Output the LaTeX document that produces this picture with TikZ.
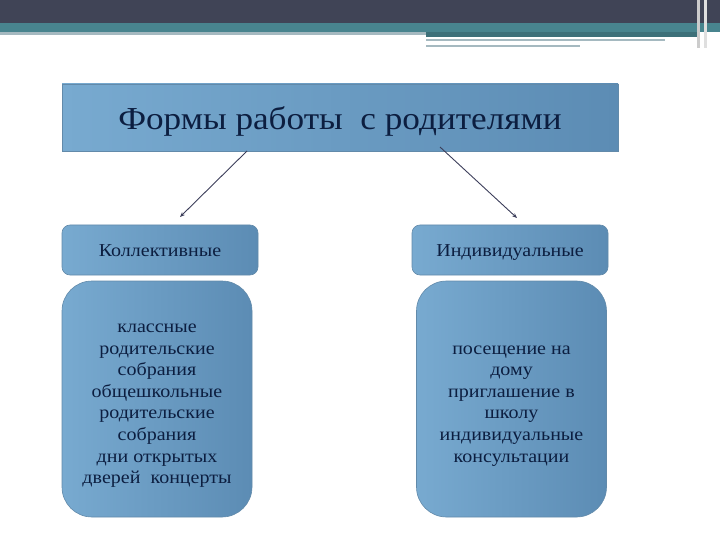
\documentclass[tikz,border=0pt]{standalone}
\usepackage{fontspec}
\setmainfont[FakeStretch=1.1]{Liberation Serif}
\usetikzlibrary{arrows.meta,positioning}
\definecolor{topdark}{RGB}{64,68,86}
\definecolor{topteal}{RGB}{72,132,142}
\definecolor{topline}{RGB}{165,185,192}
\definecolor{boxlight}{RGB}{120,170,208}
\definecolor{boxdark}{RGB}{92,140,180}
\definecolor{boxedge}{RGB}{98,138,170}
\definecolor{txtnavy}{RGB}{12,30,64}
\definecolor{arrgray}{RGB}{60,62,90}

\begin{document}
\begin{tikzpicture}[x=1pt,y=-1pt,
  blockbox/.style={draw=boxedge,line width=0.6pt,left color=boxlight,right color=boxdark,
    text=txtnavy,align=center,inner sep=0pt},
  kindbox/.style={blockbox,rounded corners=8pt,minimum width=196pt,minimum height=50pt,
    text height=12pt,text depth=0pt,font=\fontsize{18.2}{20}\selectfont},
  listbox/.style={blockbox,rounded corners=30pt,minimum width=190pt,minimum height=236pt,
    font=\fontsize{18.2}{21.6}\selectfont},
  arr/.style={-{Stealth[length=5pt,width=4pt]},line width=0.9pt,arrgray}
]
  \useasboundingbox (0,0) rectangle (720,540);
  % top band
  \fill[topdark] (0,0) rectangle (720,23);
  \fill[topteal] (0,23) rectangle (720,32);
  \fill[topline] (0,32) rectangle (426,35);
  \fill[topteal!85!black] (426,32) rectangle (700,37);
  \fill[topline] (426,39) rectangle (665,41);
  \fill[topline] (426,45) rectangle (580,47);
  \fill[gray!40] (697,0) rectangle (700,48);
  \fill[gray!25] (704,0) rectangle (707,48);
  % title
  \node[blockbox,minimum width=556pt,minimum height=67pt,text height=24pt,text depth=0pt,
    font=\fontsize{32}{36}\selectfont] (title) at (340,117.5) {Формы работы\ \ с родителями};
  % kinds of work
  \node[kindbox] (group) at (160,250) {Коллективные};
  \node[kindbox] (single) at (510,250) {Индивидуальные};
  % lists
  \node[listbox] (grouplist) at (157,399) {\rule{0pt}{22pt}классные\\родительские\\собрания\\общешкольные\\родительские\\собрания\\ дни открытых\\дверей\ \ концерты};
  \node[listbox] (singlelist) at (511.5,399) {\rule{0pt}{22pt}посещение на\\дому\\приглашение в\\школу\\индивидуальные\\консультации};
  % Arrows
  \coordinate (lstart) at (247,151);
  \coordinate (lend) at (180,217);
  \coordinate (rstart) at (440,147);
  \coordinate (rend) at (517,218);
  \draw[arr] (lstart) -- (lend);
  \draw[arr] (rstart) -- (rend);
\end{tikzpicture}
\end{document}
